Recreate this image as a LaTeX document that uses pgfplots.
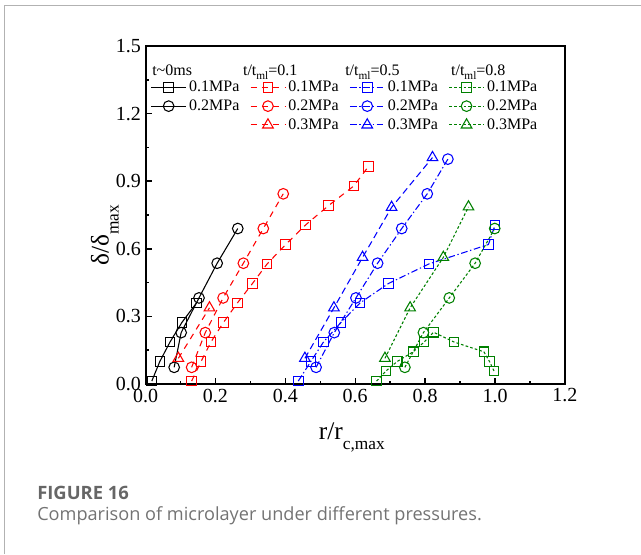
\documentclass[border=0pt]{standalone}
\usepackage{pgfplots}
\pgfplotsset{compat=1.18}
\usepackage{fontspec}
\setmainfont{Liberation Serif}
\newfontfamily\capfont{Open Sans}
\definecolor{cgreen}{RGB}{0,128,0}
\begin{document}
\begin{tikzpicture}
\useasboundingbox (0pt,0pt) rectangle (480.75pt,415.5pt);
\draw[black!30, line width=0.75pt] (3pt,0pt) -- (3pt,411pt) -- (480.75pt,411pt);
\begin{axis}[
  at={(109.125pt,127.5pt)}, anchor=south west,
  scale only axis, width=314.6pt, height=253.5pt,
  xmin=0, xmax=1.2, ymin=0, ymax=1.5,
  xtick={0,0.2,...,1.2}, ytick={0,0.3,...,1.5},
  minor x tick num=1, minor y tick num=1,
  tick pos=left, tick align=inside,
  major tick length=4.5pt, minor tick length=2.5pt,
  axis line style={line width=1.5pt},
  every tick/.style={line width=1.1pt, black},
  /pgf/number format/.cd, fixed, fixed zerofill, precision=1, assume math mode=true,
  /pgfplots/.cd,
  ticklabel style={font=\fontsize{15}{15}\selectfont},
  xlabel={\fontsize{19}{19}\selectfont r/r\raisebox{-0.4em}{\fontsize{13}{13}\selectfont c,max}},
  ylabel={\fontsize{19}{19}\selectfont δ/δ\raisebox{-0.4em}{\fontsize{13}{13}\selectfont max}},
  xlabel style={at={(axis description cs:0.492,-0.157)}, anchor=center},
  ylabel style={at={(axis description cs:-0.097,0.44)}, anchor=center, rotate=0},
  legend columns=4,
  legend style={at={(axis description cs:0.012,0.905)}, anchor=north west,
    draw=none, fill=none, inner sep=0pt, font=\fontsize{12}{12}\selectfont,
    row sep=0.6pt,
    /tikz/every even column/.append style={column sep=6pt}},
  legend cell align=left,
  legend image code/.code={\draw[mark repeat=2,mark phase=2] plot coordinates {(0pt,0pt)(13pt,0pt)(26pt,0pt)};},
  every axis plot/.append style={line width=0.8pt, mark options={solid, line width=0.8pt}},
]
\pgfplotsset{
  blk/.style={black, solid},
  rd/.style={red, dash pattern=on 4.5pt off 4pt},
  bl/.style={blue, dash pattern=on 5pt off 2pt on 1pt off 2pt},
  bldash/.style={blue, dash pattern=on 5pt off 3pt},
  gr/.style={cgreen, dash pattern=on 2pt off 1.6pt},
  sq/.style={mark=square, mark size=3.6pt},
  ci/.style={mark=o, mark size=4pt},
  tr/.style={mark=triangle, mark size=4.6pt},
}
% legend entries (row-major)
\addlegendimage{blk,sq}\addlegendentry{0.1MPa}
\addlegendimage{rd,sq}\addlegendentry{0.1MPa}
\addlegendimage{bl,sq}\addlegendentry{0.1MPa}
\addlegendimage{gr,sq}\addlegendentry{0.1MPa}
\addlegendimage{blk,ci}\addlegendentry{0.2MPa}
\addlegendimage{rd,ci}\addlegendentry{0.2MPa}
\addlegendimage{bl,ci}\addlegendentry{0.2MPa}
\addlegendimage{gr,ci}\addlegendentry{0.2MPa}
\addlegendimage{empty legend}\addlegendentry{}
\addlegendimage{rd,tr}\addlegendentry{0.3MPa}
\addlegendimage{bl,tr}\addlegendentry{0.3MPa}
\addlegendimage{gr,tr}\addlegendentry{0.3MPa}
% black: t~0ms
\addplot[blk,sq,forget plot] coordinates {(0.018,0.013)(0.041,0.100)(0.070,0.186)(0.104,0.273)(0.146,0.360)};
\addplot[blk,ci,forget plot] coordinates {(0.082,0.074)(0.102,0.228)(0.153,0.382)(0.205,0.536)(0.264,0.690)};
% red: 0.1
\addplot[rd,sq,forget plot] coordinates {(0.132,0.013)(0.159,0.100)(0.187,0.186)(0.223,0.273)(0.263,0.360)(0.306,0.446)(0.348,0.533)(0.401,0.619)(0.458,0.706)(0.524,0.792)(0.596,0.879)(0.638,0.966)};
\addplot[rd,ci,forget plot] coordinates {(0.132,0.074)(0.171,0.228)(0.222,0.382)(0.280,0.536)(0.337,0.690)(0.394,0.844)};
\addplot[rd,tr,forget plot] coordinates {(0.094,0.114)(0.183,0.338)};
% blue: 0.5
\addplot[bl,sq,forget plot] coordinates {(0.437,0.013)(0.473,0.100)(0.509,0.186)(0.559,0.273)(0.614,0.360)(0.695,0.446)(0.811,0.533)(0.981,0.619)(1.000,0.706)};
\addplot[bl,ci,forget plot] coordinates {(0.488,0.074)(0.540,0.228)(0.602,0.382)(0.664,0.536)(0.733,0.690)(0.806,0.844)(0.865,0.998)};
\addplot[bldash,tr,forget plot] coordinates {(0.456,0.114)(0.539,0.338)(0.621,0.562)(0.704,0.784)(0.821,1.005)};
% green: 0.8
\addplot[gr,sq,forget plot] coordinates {(0.661,0.013)(0.688,0.058)(0.720,0.100)(0.766,0.143)(0.797,0.186)(0.824,0.230)(0.883,0.186)(0.968,0.143)(0.984,0.100)(0.997,0.058)};
\addplot[gr,ci,forget plot] coordinates {(0.742,0.074)(0.795,0.228)(0.869,0.382)(0.943,0.536)(0.999,0.690)};
\addplot[gr,tr,forget plot] coordinates {(0.685,0.114)(0.757,0.338)(0.852,0.562)(0.924,0.786)};
% headers
\node[anchor=base west, inner sep=0pt, font=\fontsize{12}{12}\selectfont] at (axis description cs:0.0155,0.914) {t\textasciitilde 0ms};
\node[anchor=base west, inner sep=0pt, font=\fontsize{12}{12}\selectfont] at (axis description cs:0.232,0.914) {t/t\raisebox{-0.3em}{\fontsize{8.5}{8.5}\selectfont ml}=0.1};
\node[anchor=base west, inner sep=0pt, font=\fontsize{12}{12}\selectfont] at (axis description cs:0.4756,0.914) {t/t\raisebox{-0.3em}{\fontsize{8.5}{8.5}\selectfont ml}=0.5};
\node[anchor=base west, inner sep=0pt, font=\fontsize{12}{12}\selectfont] at (axis description cs:0.728,0.914) {t/t\raisebox{-0.3em}{\fontsize{8.5}{8.5}\selectfont ml}=0.8};
\end{axis}
\node[anchor=base west, inner sep=0pt, text=black!60, font=\capfont\bfseries\fontsize{13.8}{13.8}\selectfont] at (27.75pt,41.25pt) {FIGURE 16};
\node[anchor=base west, inner sep=0pt, text=black!55, font=\capfont\fontsize{13.6}{13.6}\selectfont] at (27.75pt,25.5pt) {Comparison of microlayer under different pressures.};
\end{tikzpicture}
\end{document}
